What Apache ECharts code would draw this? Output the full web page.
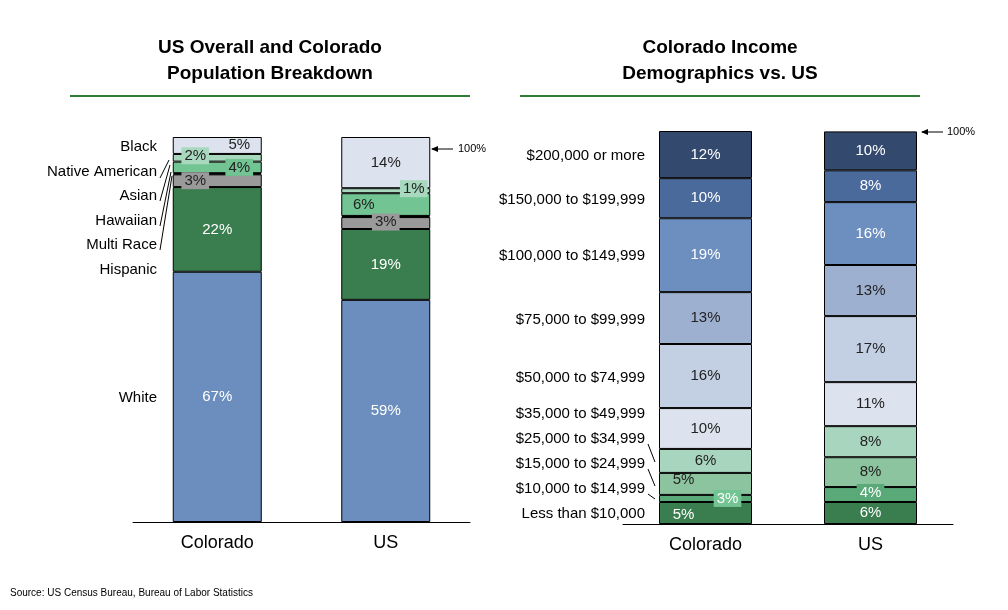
<!DOCTYPE html><html><head><meta charset="utf-8">
<script src="https://cdn.jsdelivr.net/npm/echarts@6/dist/echarts.min.js"></script>
<style>html,body{margin:0;background:#fff}#c{width:1008px;height:610px}</style></head><body><div id="c"></div>
<script>
const places = ['Colorado','US'];
// Population breakdown (bottom to top)
const raceNames = ['White','Hispanic','Multi Race','Hawaiian','Asian','Native American','Black'];
const raceColorado = [65, 22, 3.3, 0.3, 3, 2, 4.4];
const raceUS = [57.7, 18.4, 3.1, 0.3, 5.9, 1.3, 13.3];
const raceLabelColorado = ['67%','22%','3%','','4%','2%','5%'];
const raceLabelUS = ['59%','19%','3%','','6%','1%','14%'];
// Income (bottom to top)
const incNames = ['Less than $10,000','$10,000 to $14,999','$15,000 to $24,999','$25,000 to $34,999','$35,000 to $49,999','$50,000 to $74,999','$75,000 to $99,999','$100,000 to $149,999','$150,000 to $199,999','$200,000 or more'];
const incColorado = [5.6, 1.8, 5.6, 6.1, 10.4, 16.3, 13.2, 18.8, 10.2, 12];
const incUS = [5.6, 3.8, 7.6, 7.9, 11.2, 16.8, 13, 16, 8.1, 9.9];
const incLabelColorado = ['5%','3%','5%','6%','10%','16%','13%','19%','10%','12%'];
const incLabelUS = ['6%','4%','8%','8%','11%','17%','13%','16%','8%','10%'];

const raceColors = ['#6c8ebf','#3a7d4f','#9a9a9a','#111','#72c493','#a8d8bd','#dde3ee'];
const raceText = ['#fff','#fff','#222','#222','#222','#222','#222'];
const incColors = ['#3a7d4f','#5aa978','#8cc49f','#a8d5bd','#dde3ee','#c3cfe3','#9db0d0','#6d8fc0','#4a6a9c','#34496e'];
const incText = ['#fff','#fff','#222','#222','#222','#222','#222','#fff','#fff','#fff'];

// special label placements [offsetX, offsetY, background]
const raceSpecial = {
  '0-4':[22,0,'#72c493'], '0-5':[-22,-2,'#a8d8bd'], '0-6':[22,-1,null], '0-2':[-22,0,'#9a9a9a'],
  '1-4':[-22,0,null], '1-5':[28,-2,'#a8d8bd'], '1-2':[0,-1,'#9a9a9a']
};
const incSpecial = {'0-0':[-22,2,null],'0-1':[22,0,'#72c493'],'0-2':[-22,-4,null],'1-1':[0,-2,'#5aa978']};

function mkItem(v, txt, col, sp) {
  const lab = {show: !!txt, formatter: txt, color: col, fontSize: 15, fontFamily: 'Arial'};
  if (sp) { lab.offset = [sp[0], sp[1]]; if (sp[2]) { lab.backgroundColor = sp[2]; lab.padding = [1,3]; } }
  return {value: v, label: lab};
}
const series = [];
raceNames.forEach((n,i)=>{
  series.push({type:'bar', name:n, stack:'r', xAxisIndex:0, yAxisIndex:0, barWidth:89,
    itemStyle:{color:raceColors[i], borderColor:'#000', borderWidth: i===3?2:1},
    label:{position:'inside'},
    data:[mkItem(raceColorado[i], raceLabelColorado[i], raceText[i], raceSpecial['0-'+i]),
          mkItem(raceUS[i], raceLabelUS[i], raceText[i], raceSpecial['1-'+i])]});
});
incNames.forEach((n,i)=>{
  series.push({type:'bar', name:n, stack:'i', xAxisIndex:1, yAxisIndex:1, barWidth:93,
    itemStyle:{color:incColors[i], borderColor:'#000', borderWidth:1},
    label:{position:'inside'},
    data:[mkItem(incColorado[i], incLabelColorado[i], incText[i], incSpecial['0-'+i]),
          mkItem(incUS[i], incLabelUS[i], incText[i], incSpecial['1-'+i])]});
});

const graphic = [];
const T = (x,y,t,o)=>graphic.push(Object.assign({type:'text',x:x,y:y,style:Object.assign({text:t,font:'15px Arial',fill:'#000',textAlign:'right',textVerticalAlign:'middle'},o||{})}));
const L = (x1,y1,x2,y2,w,c)=>graphic.push({type:'line',shape:{x1,y1,x2,y2},style:{stroke:c||'#000',lineWidth:w||1}});
// titles
T(270,48,'US Overall and Colorado',{font:'bold 19px Arial',textAlign:'center'});
T(270,74,'Population Breakdown',{font:'bold 19px Arial',textAlign:'center'});
T(720,48,'Colorado Income',{font:'bold 19px Arial',textAlign:'center'});
T(720,74,'Demographics vs. US',{font:'bold 19px Arial',textAlign:'center'});
L(70,96,470,96,2,'#2e7d32'); L(520,96,920,96,2,'#2e7d32');
// left side labels
const raceLabY = [398,270,245,221,196,172,147];
raceNames.forEach((n,i)=>T(157,raceLabY[i],n));
L(160,178,169,160); L(160,201,170,165); L(160,226,171,172); L(160,250,172,176);
// right side labels
const incLabY = [514,489,464,439,414,378,320,256,200,156];
incNames.forEach((n,i)=>T(645,incLabY[i],n));
L(648,444,655,462); L(648,469,655,486); L(648,494,655,499);
// 100% markers
T(458,149,'100%',{font:'11px Arial',textAlign:'left'}); L(432,149,453,149); 
graphic.push({type:'polygon',shape:{points:[[431,149],[438,146],[438,152]]},style:{fill:'#000'}});
T(947,132,'100%',{font:'11px Arial',textAlign:'left'}); L(922,132,943,132);
graphic.push({type:'polygon',shape:{points:[[921,132],[928,129],[928,135]]},style:{fill:'#000'}});
T(10,593,'Source: US Census Bureau, Bureau of Labor Statistics',{font:'10px Arial',textAlign:'left'});

const xa = (gi)=>({type:'category', gridIndex:gi, data:places, axisTick:{show:false},
  axisLine:{lineStyle:{color:'#000'}}, axisLabel:{fontSize:18, color:'#000', fontFamily:'Arial', margin:12}});
const ya = (gi)=>({type:'value', gridIndex:gi, min:0, max:100, show:false});
echarts.init(document.getElementById('c')).setOption({
  animation:false,
  grid:[{left:133, top:137, width:337, height:385},{left:623, top:131, width:330, height:393}],
  xAxis:[xa(0), xa(1)], yAxis:[ya(0), ya(1)], series, graphic
});
</script></body></html>
